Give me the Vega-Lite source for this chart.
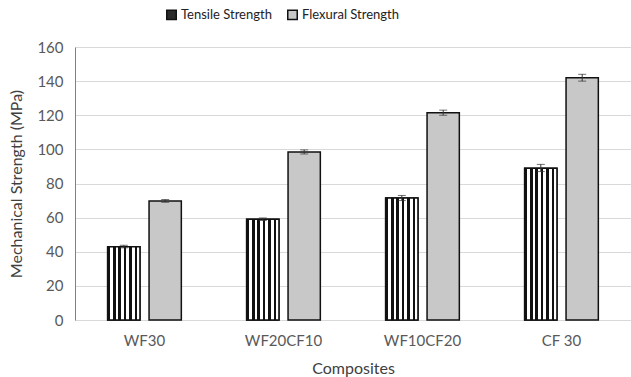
{
  "$schema": "https://vega.github.io/schema/vega-lite/v6.json",
  "autosize": {"type": "none"},
  "width": 556,
  "height": 273,
  "padding": {"left": 75, "top": 47, "right": 0, "bottom": 57},
  "background": "white",
  "config": {
    "font": "Lato",
    "view": {"stroke": null},
    "axis": {"labelFont": "Lato", "titleFont": "Lato", "labelColor": "#595959", "titleColor": "#404040", "titleFontWeight": "normal", "labelFontSize": 15, "titleFontSize": 16},
    "axisY": {"values": [0,20,40,60,80,100,120,140,160], "ticks": false, "domain": true, "domainColor": "#808080", "gridColor": "#d9d9d9", "labelPadding": 12, "titlePadding": 12}
  },
  "data": {"values": [
    {"composite": "WF30", "type": "Tensile Strength", "value": 43, "lo": 42.3, "hi": 43.8},
    {"composite": "WF30", "type": "Flexural Strength", "value": 69.8, "lo": 69, "hi": 70.6},
    {"composite": "WF20CF10", "type": "Tensile Strength", "value": 59, "lo": 58.3, "hi": 59.8},
    {"composite": "WF20CF10", "type": "Flexural Strength", "value": 98.5, "lo": 97.3, "hi": 99.7},
    {"composite": "WF10CF20", "type": "Tensile Strength", "value": 71.5, "lo": 70, "hi": 73},
    {"composite": "WF10CF20", "type": "Flexural Strength", "value": 121.5, "lo": 120, "hi": 123},
    {"composite": "CF 30", "type": "Tensile Strength", "value": 89, "lo": 87, "hi": 91.2},
    {"composite": "CF 30", "type": "Flexural Strength", "value": 142, "lo": 140, "hi": 144}
  ]},
  "encoding": {
    "x": {"field": "composite", "type": "nominal", "sort": ["WF30", "WF20CF10", "WF10CF20", "CF 30"],
      "scale": {"paddingInner": 0.47, "paddingOuter": 0.235},
      "axis": {"title": "Composites", "labelAngle": 0, "ticks": false, "domainColor": "#d9d9d9", "labelPadding": 13, "titlePadding": 12}},
    "xOffset": {"field": "type", "type": "nominal", "sort": ["Tensile Strength", "Flexural Strength"], "scale": {"paddingInner": 0.22, "paddingOuter": 0}}
  },
  "layer": [
    {
      "mark": {"type": "bar", "stroke": "#111111", "strokeWidth": 1.5},
      "encoding": {
        "y": {"field": "value", "type": "quantitative", "scale": {"domain": [0, 160]},
          "axis": {"title": "Mechanical Strength (MPa)", "values": [0,20,40,60,80,100,120,140,160]}},
        "color": {"field": "type", "type": "nominal", "sort": ["Tensile Strength", "Flexural Strength"],
          "scale": {"domain": ["Tensile Strength", "Flexural Strength"], "range": ["#2a2a2a", "#c8c8c8"]},
          "legend": {"title": null, "orient": "none", "direction": "horizontal", "legendX": 90, "legendY": -39, "symbolType": "square", "symbolSize": 90, "symbolStrokeColor": "#111", "symbolStrokeWidth": 1.5, "labelFontSize": 13, "labelColor": "#222", "labelFont": "Lato", "columnPadding": 12, "labelOffset": 3}
        }
      }
    },
    {
      "transform": [{"filter": "datum.type === 'Tensile Strength'"}],
      "mark": {"type": "bar", "stroke": "#111111", "strokeWidth": 1.5, "fill":
            {"gradient": "linear", "x1": 0, "y1": 0, "x2": 1, "y2": 0, "stops": [
              {"offset": 0, "color": "#111"}, {"offset": 0.08, "color": "#111"}, {"offset": 0.08, "color": "#fff"}, {"offset": 0.1667, "color": "#fff"},
              {"offset": 0.1667, "color": "#111"}, {"offset": 0.2467, "color": "#111"}, {"offset": 0.2467, "color": "#fff"}, {"offset": 0.3333, "color": "#fff"},
              {"offset": 0.3333, "color": "#111"}, {"offset": 0.4133, "color": "#111"}, {"offset": 0.4133, "color": "#fff"}, {"offset": 0.5, "color": "#fff"},
              {"offset": 0.5, "color": "#111"}, {"offset": 0.58, "color": "#111"}, {"offset": 0.58, "color": "#fff"}, {"offset": 0.6667, "color": "#fff"},
              {"offset": 0.6667, "color": "#111"}, {"offset": 0.7467, "color": "#111"}, {"offset": 0.7467, "color": "#fff"}, {"offset": 0.8333, "color": "#fff"},
              {"offset": 0.8333, "color": "#111"}, {"offset": 0.9133, "color": "#111"}, {"offset": 0.9133, "color": "#fff"}, {"offset": 1, "color": "#fff"}
            ]}},
      "encoding": {
        "y": {"field": "value", "type": "quantitative", "axis": {"title": "Mechanical Strength (MPa)", "values": [0,20,40,60,80,100,120,140,160]}}
      }
    },
    {
      "mark": {"type": "rule", "color": "#333", "strokeWidth": 1},
      "encoding": {"y": {"field": "lo", "type": "quantitative", "axis": {"title": "Mechanical Strength (MPa)", "values": [0,20,40,60,80,100,120,140,160]}}, "y2": {"field": "hi"}}
    },
    {
      "mark": {"type": "tick", "color": "#333", "thickness": 1, "size": 8},
      "encoding": {"y": {"field": "hi", "type": "quantitative", "axis": {"title": "Mechanical Strength (MPa)", "values": [0,20,40,60,80,100,120,140,160]}}}
    },
    {
      "mark": {"type": "tick", "color": "#333", "thickness": 1, "size": 8},
      "encoding": {"y": {"field": "lo", "type": "quantitative", "axis": {"title": "Mechanical Strength (MPa)", "values": [0,20,40,60,80,100,120,140,160]}}}
    }
  ]
}
